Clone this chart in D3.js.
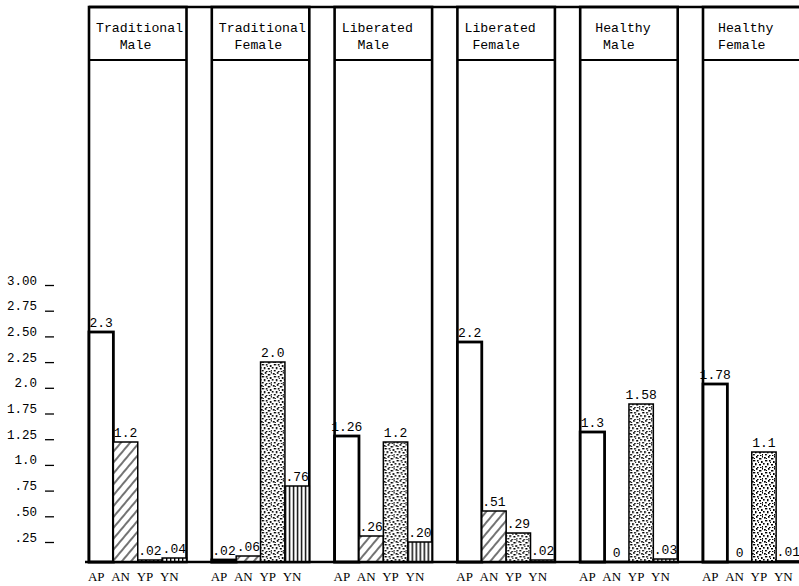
<!DOCTYPE html>
<html><head><meta charset="utf-8">
<script src="https://cdn.jsdelivr.net/npm/d3@7"></script>
<style>body{margin:0;background:#fff} svg{display:block}</style>
</head><body>
<svg id="chart" width="799" height="586"></svg>
<script>
// ---- data ----
const groups = ["Traditional Male","Traditional Female","Liberated Male","Liberated Female","Healthy Male","Healthy Female"];
const measures = ["AP","AN","YP","YN"];
const AP = ["2.3", ".02", "1.26", "2.2", "1.3", "1.78"];
const AN = ["1.2", ".06", ".26", ".51", "0", "0"];
const YP = [".02", "2.0", "1.2", ".29", "1.58", "1.1"];
const YN = [".04", ".76", ".20", ".02", ".03", ".01"];
const yTickLabels = [".25", ".50", ".75", "1.0", "1.25", "1.75", "2.0", "2.25", "2.50", "2.75", "3.00"];

const series = {AP, AN, YP, YN};
const FONT = "'Liberation Mono','DejaVu Sans Mono',monospace";

const svg = d3.select("#chart");
const defs = svg.append("defs");

// patterns (style only)
const hatch = defs.append("pattern").attr("id","hatch").attr("patternUnits","userSpaceOnUse")
  .attr("width",7).attr("height",7).attr("patternTransform","rotate(40)");
hatch.append("rect").attr("width",7).attr("height",7).attr("fill","#fff");
hatch.append("line").attr("x1",1).attr("x2",1).attr("y1",0).attr("y2",7).attr("stroke","#000").attr("stroke-width",1.1);

const vlines = defs.append("pattern").attr("id","vlines").attr("patternUnits","userSpaceOnUse")
  .attr("width",4).attr("height",4);
vlines.append("rect").attr("width",4).attr("height",4).attr("fill","#fff");
vlines.append("rect").attr("x",1).attr("width",1.4).attr("height",4).attr("fill","#000");

const stip = defs.append("pattern").attr("id","stipple").attr("patternUnits","userSpaceOnUse")
  .attr("width",12).attr("height",12);
stip.append("rect").attr("width",12).attr("height",12).attr("fill","#fff");
const dots = [[1,1,1.8,1.6],[5,0,1.6,1.8],[8,2,2.4,1.5],[11,0,1,1.6],[2,4,2.3,1.4],[6,4,1.6,1.6],[10,5,1.6,2],
  [0,7,1.6,1.6],[4,7,1.5,2.3],[8,8,2,1.5],[11,10,1,1.6],[2,10,1.8,1.4],[6,11,1.6,1],[9,11,1.4,1.2],[7,6,1,1],[3,2,1,1]];
stip.selectAll("rect.d").data(dots).join("rect").attr("class","d")
  .attr("x",d=>d[0]).attr("y",d=>d[1]).attr("width",d=>d[2]).attr("height",d=>d[3]).attr("fill","#000");

const fills = {AP:"#fff", AN:"url(#hatch)", YP:"url(#stipple)", YN:"url(#vlines)"};

// ---- scales ----
const x0 = d3.scaleBand(groups, [89, 800.5]).paddingInner(0.206).paddingOuter(0);
const x1 = d3.scaleBand(measures, [0, x0.bandwidth()]);
const y = d3.scaleLinear([0, 3], [562, 262]);
const yAxisPos = d3.scalePoint(yTickLabels, [542, 285]);
const TOP = 7, HEAD = 60;

// ---- panel frames ----
const panels = svg.append("g").selectAll("g").data(groups).join("g")
  .attr("transform", g => `translate(${x0(g)},0)`);

panels.append("rect").attr("x",0).attr("y",TOP).attr("width",x0.bandwidth()).attr("height",y(0)-TOP)
  .attr("fill","#fff").attr("stroke","#000").attr("stroke-width",2.6);
panels.append("line").attr("x1",0).attr("x2",x0.bandwidth()).attr("y1",HEAD).attr("y2",HEAD)
  .attr("stroke","#000").attr("stroke-width",2.2);

// header texts
panels.each(function(g){
  const words = g.split(" ");
  const sel = d3.select(this);
  const t1 = sel.append("text").attr("y", 32)
    .attr("text-anchor","middle").attr("font-family",FONT).attr("font-size",13.2)
    .attr("fill","#000").text(words[0]);
  const w = t1.node().getComputedTextLength();
  const c1 = Math.max(x0.bandwidth()/2 - 6, 7 + w/2);
  t1.attr("x", c1);
  sel.append("text").attr("x", c1 - 4).attr("y", 49)
    .attr("text-anchor","middle").attr("font-family",FONT).attr("font-size",13.2)
    .attr("fill","#000").text(words[1]);
});

// ---- bars ----
panels.each(function(g, gi){
  const sel = d3.select(this);
  const rows = measures.map(m => ({m, label: series[m][gi], v: +series[m][gi]}));
  sel.selectAll("rect.bar").data(rows).join("rect").attr("class","bar")
    .attr("x", d => x1(d.m)).attr("width", x1.bandwidth())
    .attr("y", d => y(d.v)).attr("height", d => y(0) - y(d.v))
    .attr("fill", d => fills[d.m]).attr("stroke","#000")
    .attr("stroke-width", d => d.m === "AP" ? 2.8 : 1.5);
  sel.selectAll("text.val").data(rows).join("text").attr("class","val")
    .attr("x", d => x1(d.m) + x1.bandwidth()/2).attr("y", d => y(d.v) - 5)
    .attr("text-anchor","middle").attr("font-family",FONT).attr("font-size",13)
    .attr("fill","#000").text(d => d.label);
  sel.selectAll("text.cat").data(measures).join("text").attr("class","cat")
    .attr("x", m => x1(m) + x1.bandwidth()/2 - 5).attr("y", 581)
    .attr("text-anchor","middle").attr("font-family","'Liberation Serif','DejaVu Serif',serif").attr("font-size",13)
    .attr("fill","#000").text(m => m);
});

// top line and baseline
svg.append("line").attr("x1",x0.range()[0]).attr("x2",799).attr("y1",TOP).attr("y2",TOP)
  .attr("stroke","#000").attr("stroke-width",2.4);
svg.append("line").attr("x1",85).attr("x2",799).attr("y1",y(0)).attr("y2",y(0))
  .attr("stroke","#000").attr("stroke-width",2.6);

// ---- y axis ----
const yAxis = svg.append("g").attr("transform","translate(54,0)")
  .call(d3.axisLeft(yAxisPos).tickSize(9).tickPadding(8));
yAxis.select(".domain").remove();
yAxis.selectAll(".tick line").attr("stroke","#000").attr("stroke-width",1.3);
yAxis.selectAll(".tick text").attr("dy","-1").attr("font-family",FONT).attr("font-size",12.5).attr("fill","#000");
</script>
</body></html>
